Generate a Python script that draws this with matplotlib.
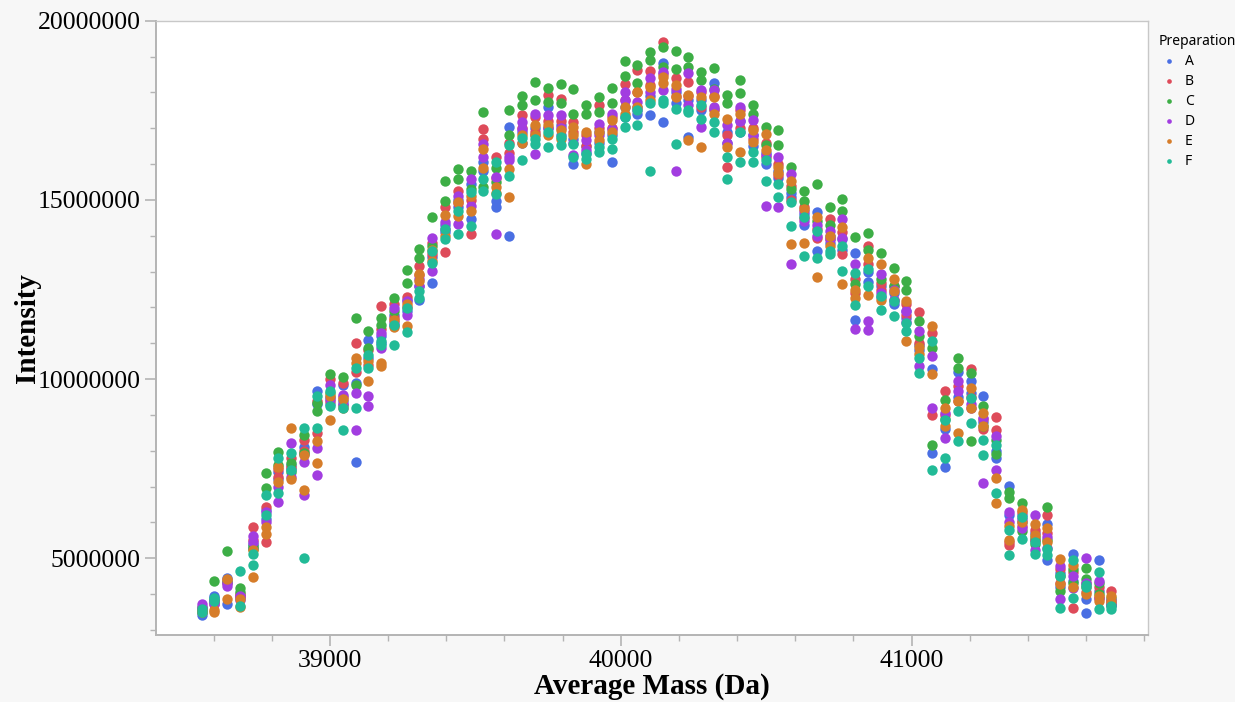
import numpy as np
import matplotlib
matplotlib.use('Agg')
import matplotlib.pyplot as plt
from matplotlib.ticker import MultipleLocator, FuncFormatter

nan = float('nan')

# average mass of each peak column (Da)
mass = [38559, 38603, 38647, 38691, 38735, 38779, 38823, 38867, 38911, 38956,
        39000, 39044, 39088, 39132, 39176, 39220, 39264, 39308, 39352, 39396,
        39440, 39484, 39528, 39572, 39616, 39661, 39705, 39749, 39793, 39837,
        39881, 39925, 39969, 40013, 40057, 40101, 40145, 40189, 40233, 40277,
        40321, 40366, 40410, 40454, 40498, 40542, 40586, 40630, 40674, 40718,
        40762, 40806, 40850, 40894, 40938, 40982, 41026, 41071, 41115, 41159,
        41203, 41247, 41291, 41335, 41379, 41423, 41467, 41511, 41555, 41599,
        41643, 41687]

# intensity in millions, two runs per preparation
a_run1 = [3.42, 3.95, 3.73, 3.95, 5.41, 6.34, 7.40, 7.60, 7.90, 9.66,
          9.50, 9.84, 7.68, 11.10, 11.20, 11.80, 12.20, 12.20, 12.69, 14.30,
          15.00, 15.45, 16.05, 14.98, 17.03, 16.90, 17.00, 17.59, 17.10, 16.01,
          16.50, 16.90, 16.07, 17.60, 17.60, 17.36, 18.81, 18.00, 16.75, 17.80,
          18.25, 16.90, 17.20, 16.80, 16.30, 15.80, 15.07, 14.60, 14.65, 14.00,
          13.90, 13.53, 13.00, 12.60, 12.40, 11.90, 10.96, 10.27, 7.56, 10.20,
          9.94, 9.52, 8.00, 7.03, 6.20, 5.70, 5.97, 4.60, 5.12, 3.87,
          4.95, 3.80]
a_run2 = [3.50, 3.90, 4.45, 3.90, 5.30, 6.10, 7.20, 7.50, 8.10, 9.30,
          9.30, 9.40, 9.90, 10.60, 11.00, 11.50, 11.90, 12.60, 13.40, 14.10,
          14.80, 14.47, 15.80, 14.79, 13.99, 16.60, 16.80, 17.00, 16.80, 16.70,
          16.30, 16.60, 16.80, 17.30, 17.40, 17.90, 17.17, 17.70, 17.80, 17.50,
          17.55, 16.60, 16.90, 16.50, 16.00, 15.60, 15.20, 14.30, 13.58, 13.80,
          13.60, 11.66, 12.70, 12.30, 12.10, 11.70, 10.80, 7.93, 8.60, 9.50,
          9.60, 8.80, 7.80, 6.20, 6.00, 5.50, 4.96, 4.20, 4.38, 3.48,
          4.10, 3.70]
b_run1 = [3.55, 3.73, 4.30, 4.01, 5.87, 6.43, 7.27, 7.80, 8.30, 9.40,
          10.00, 9.90, 11.01, 10.80, 12.04, 12.10, 12.30, 13.16, 13.80, 14.79,
          15.26, 14.04, 16.99, 16.19, 16.60, 17.36, 17.30, 17.92, 17.81, 17.17,
          16.80, 17.64, 17.30, 18.22, 18.62, 18.60, 19.41, 18.40, 18.30, 18.00,
          17.90, 16.80, 17.50, 17.00, 16.60, 16.00, 15.40, 14.80, 13.95, 14.47,
          13.49, 12.80, 13.72, 12.69, 12.60, 12.10, 11.88, 11.29, 9.68, 9.80,
          10.27, 8.60, 8.93, 5.45, 6.30, 5.80, 6.20, 4.70, 4.61, 4.05,
          4.20, 4.08]
b_run2 = [3.60, 3.80, 4.40, 3.95, 5.50, 5.45, 7.50, 7.55, 8.00, 8.50,
          9.40, 9.50, 10.20, 10.40, 11.40, 11.70, 12.00, 12.90, 13.50, 13.56,
          14.90, 15.00, 16.71, 15.60, 16.30, 17.00, 16.90, 17.20, 17.20, 16.90,
          16.50, 17.00, 17.00, 17.80, 18.00, 18.20, 18.50, 17.90, 17.90, 17.60,
          17.50, 15.91, 17.00, 16.70, 16.20, 15.70, 15.00, 14.50, 14.20, 13.90,
          14.10, 12.40, 13.20, 12.50, 12.20, 11.80, 11.00, 9.00, 9.00, 9.40,
          9.50, 8.90, 8.59, 5.37, 5.90, 5.50, 5.70, 4.30, 3.62, 4.30,
          3.90, 3.75]
c_run1 = [3.50, 4.38, 5.20, 4.17, 5.35, 7.37, 7.97, 7.42, 8.44, 9.33,
          10.15, 10.05, 11.71, 11.34, 11.71, 12.27, 13.04, 13.62, 14.51, 15.54,
          15.87, 15.82, 17.45, 15.90, 17.50, 17.90, 18.29, 18.12, 18.22, 18.09,
          17.64, 17.87, 18.12, 18.87, 18.76, 19.13, 19.27, 19.15, 18.99, 18.57,
          18.67, 17.92, 18.34, 17.64, 17.03, 16.96, 15.93, 15.26, 15.43, 14.79,
          15.03, 13.97, 14.09, 13.53, 13.11, 12.74, 11.62, 10.87, 9.43, 10.59,
          10.17, 9.24, 8.30, 6.86, 6.53, 5.60, 6.44, 4.50, 4.70, 4.72,
          4.30, 3.90]
c_run2 = [3.65, 3.85, 4.35, 4.05, 5.25, 6.95, 7.60, 7.65, 7.95, 9.11,
          9.60, 9.28, 9.84, 10.87, 11.52, 11.90, 12.69, 13.39, 13.70, 14.98,
          15.59, 15.30, 15.35, 15.50, 16.80, 17.64, 17.80, 17.73, 17.71, 17.41,
          17.41, 17.45, 17.69, 18.46, 18.25, 18.90, 18.70, 18.65, 18.71, 18.34,
          18.10, 17.69, 17.97, 17.41, 16.52, 16.52, 15.31, 14.98, 14.40, 14.30,
          14.70, 12.64, 13.60, 12.80, 12.60, 12.50, 11.20, 8.17, 8.90, 10.31,
          8.26, 8.70, 7.90, 6.67, 5.76, 5.40, 5.50, 4.10, 4.30, 4.43,
          4.00, 3.70]
d_run1 = [3.73, 3.73, 4.24, 3.95, 5.62, 6.30, 6.57, 8.21, 7.70, 8.07,
          9.84, 9.56, 9.60, 9.52, 11.29, 11.99, 12.18, 12.80, 13.95, 14.37,
          15.12, 15.59, 16.55, 15.63, 16.19, 17.17, 17.41, 17.36, 17.36, 16.24,
          16.66, 17.13, 17.41, 18.01, 17.73, 18.39, 18.57, 18.10, 18.53, 18.06,
          18.06, 17.08, 17.59, 17.22, 16.24, 16.19, 15.73, 14.70, 14.30, 14.14,
          14.47, 13.21, 11.62, 12.92, 12.50, 11.90, 11.34, 10.64, 9.05, 9.94,
          9.19, 8.91, 8.40, 6.30, 6.10, 6.20, 5.60, 4.78, 4.17, 5.00,
          4.36, 3.85]
d_run2 = [3.60, 3.78, 4.30, 3.85, 5.45, 6.00, 7.00, 7.27, 6.76, 7.32,
          9.45, 9.30, 8.58, 9.24, 10.87, 11.60, 11.80, 12.60, 13.02, 14.20,
          14.34, 14.84, 16.20, 14.04, 16.10, 16.99, 16.29, 17.00, 17.00, 16.60,
          16.40, 16.80, 16.99, 17.78, 17.50, 18.00, 18.06, 15.82, 17.64, 17.03,
          17.60, 16.60, 17.20, 16.80, 14.84, 14.79, 13.21, 14.40, 14.00, 13.90,
          13.95, 11.41, 11.38, 12.40, 12.20, 11.60, 10.36, 9.20, 8.35, 9.66,
          9.30, 7.09, 7.47, 6.02, 5.85, 5.22, 5.30, 3.86, 4.50, 4.30,
          3.90, 3.70]
e_run1 = [3.55, 3.51, 4.43, 3.87, 5.22, 5.87, 7.56, 8.63, 7.88, 8.26,
          9.52, 9.45, 10.59, 10.50, 10.45, 11.66, 11.48, 12.92, 13.60, 14.59,
          14.93, 15.10, 16.43, 15.35, 15.87, 16.60, 17.08, 17.10, 16.94, 17.03,
          16.89, 16.89, 17.22, 17.59, 18.01, 18.15, 18.43, 18.20, 17.92, 17.87,
          17.87, 17.27, 17.41, 16.94, 16.85, 15.91, 15.54, 14.75, 14.51, 14.00,
          14.23, 12.27, 13.39, 13.21, 12.78, 12.18, 10.90, 11.48, 9.19, 9.38,
          9.75, 9.05, 7.23, 5.51, 6.35, 5.97, 5.85, 4.99, 4.80, 4.20,
          3.96, 3.96]
e_run2 = [3.50, 3.55, 3.87, 3.63, 4.47, 5.69, 7.13, 7.20, 6.90, 7.65,
          8.86, 9.20, 10.45, 9.94, 10.36, 11.45, 12.10, 12.74, 13.30, 14.00,
          14.56, 14.70, 15.90, 15.20, 15.07, 16.80, 16.80, 16.80, 16.70, 16.80,
          16.01, 16.66, 16.90, 17.40, 17.60, 17.80, 18.25, 17.87, 16.66, 16.47,
          17.40, 16.47, 16.33, 16.61, 16.40, 15.75, 13.77, 13.81, 12.85, 13.70,
          12.64, 12.50, 12.36, 12.20, 12.46, 11.06, 10.70, 10.13, 8.70, 8.49,
          9.20, 8.68, 6.53, 5.90, 6.00, 5.65, 5.46, 4.29, 4.20, 4.00,
          3.80, 3.80]
f_run1 = [3.49, 3.82, nan, 4.64, 5.13, 6.76, 7.79, 7.93, 8.63, 9.52,
          9.66, 9.19, 10.31, 10.68, 11.05, 11.52, 11.99, 12.46, 13.58, 14.18,
          14.70, 15.21, 15.59, 16.05, 16.52, 16.73, 16.71, 16.89, 16.75, 16.57,
          16.29, 16.47, 16.71, 17.31, 17.50, 17.69, 17.78, 17.55, 17.50, 17.64,
          17.17, 16.19, 16.89, 16.33, 16.10, 15.45, 14.93, 14.51, 14.14, 13.58,
          13.72, 12.97, 13.07, 12.32, 12.18, 11.57, 10.59, 11.06, 8.87, 9.10,
          9.47, 8.31, 8.17, 5.79, 6.16, 5.46, 5.27, 4.52, 4.94, 4.19,
          4.63, 3.68]
f_run2 = [3.58, 3.88, nan, 3.68, 4.82, 6.20, 6.81, 7.46, 5.01, 8.63,
          9.24, 8.58, 9.19, 10.31, 10.95, 10.96, 11.32, 12.27, 13.25, 13.90,
          14.06, 14.28, 15.26, 15.17, 15.68, 16.10, 16.57, 16.47, 16.52, 16.19,
          16.15, 16.33, 16.43, 17.03, 17.08, 15.82, 17.70, 16.57, 17.45, 17.27,
          16.89, 15.59, 16.07, 16.05, 15.52, 15.07, 14.28, 13.44, 13.39, 13.49,
          13.02, 12.08, 12.60, 11.94, 11.76, 11.34, 10.17, 7.47, 7.79, 8.26,
          8.77, 7.89, 6.81, 5.08, 5.55, 5.13, 5.08, 3.62, 3.90, 4.25,
          3.59, 3.59]

preps = ['A', 'B', 'C', 'D', 'E', 'F']
runs = [(a_run1, a_run2), (b_run1, b_run2), (c_run1, c_run2),
        (d_run1, d_run2), (e_run1, e_run2), (f_run1, f_run2)]
colors = ['#4a6fe3', '#de4b5a', '#3dae46', '#a23de0', '#d67d2a', '#22bb97']

fig = plt.figure(figsize=(12.35, 7.02), dpi=100, facecolor='#f7f7f7')
ax = fig.add_axes([156/1235, 1 - 635/702, 992/1235, 614.3/702])
ax.set_facecolor('white')

x = np.array(mass, dtype=float)
handles = []
for name, (r1, r2), col in zip(preps, runs, colors):
    xs = np.concatenate([x, x])
    ys = np.concatenate([np.array(r1), np.array(r2)]) * 1e6
    h = ax.scatter(xs, ys, s=56, color=col, linewidths=0, label=name, zorder=3)
    handles.append(h)

ax.set_xlim(38402, 41813)
ax.set_ylim(2.86e6, 20.0e6)

ax.xaxis.set_major_locator(MultipleLocator(1000))
ax.xaxis.set_minor_locator(MultipleLocator(200))
ax.yaxis.set_major_locator(MultipleLocator(5e6))
ax.yaxis.set_minor_locator(MultipleLocator(1e6))
ax.yaxis.set_major_formatter(FuncFormatter(lambda v, p: '%d' % v))
ax.xaxis.set_major_formatter(FuncFormatter(lambda v, p: '%d' % v))

grey = '#b4b4b4'
for side in ['left', 'bottom']:
    ax.spines[side].set_color(grey)
    ax.spines[side].set_linewidth(1.4)
for side in ['top', 'right']:
    ax.spines[side].set_color('#c8c8c8')
    ax.spines[side].set_linewidth(1.0)

ax.tick_params(which='major', length=8, width=1.2, color=grey, pad=3,
               labelsize=18.5, labelcolor='black')
ax.tick_params(which='minor', length=4.5, width=1.0, color=grey)
for lab in ax.get_xticklabels() + ax.get_yticklabels():
    lab.set_family('Liberation Serif')

ax.set_xlabel('Average Mass (Da)', family='Liberation Serif', fontweight='bold',
              fontsize=21)
ax.set_ylabel('Intensity', family='Liberation Serif', fontweight='bold',
              fontsize=21)
ax.xaxis.set_label_coords(0.5, -0.062)
ax.yaxis.set_label_coords(-0.116, 0.5)

leg = ax.legend(handles=handles, loc='upper left',
                bbox_to_anchor=(1152/1235, 1 - 27/702),
                bbox_transform=fig.transFigure, frameon=False,
                title='Preparation', markerscale=0.45,
                prop={'family': 'Noto Sans', 'size': 10},
                title_fontproperties={'family': 'Noto Sans', 'size': 10},
                handletextpad=0.45, labelspacing=0.36, borderpad=0,
                handlelength=1.4, alignment='left')

fig.savefig('out.png', dpi=100, facecolor=fig.get_facecolor())
